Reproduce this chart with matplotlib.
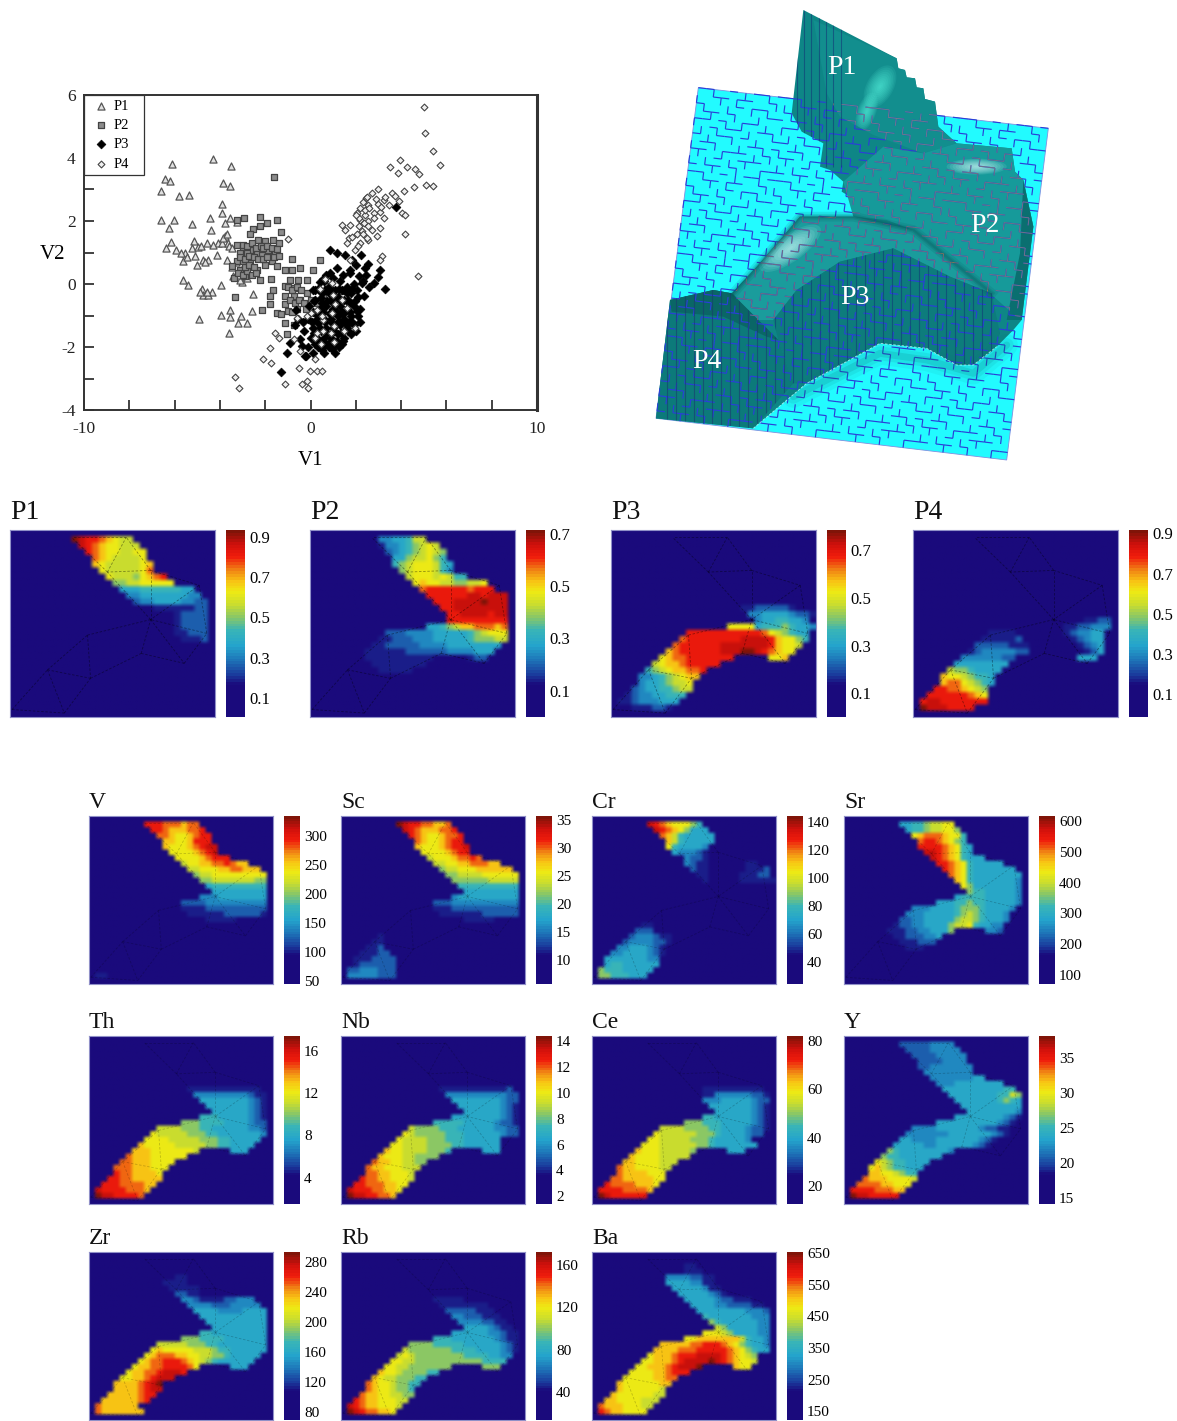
import numpy as np
import matplotlib
matplotlib.use("Agg")
import matplotlib.pyplot as plt
from matplotlib.colors import LinearSegmentedColormap
from matplotlib.collections import LineCollection
from matplotlib.patches import Polygon, Ellipse, Rectangle

W, H = 1177, 1421
plt.rcParams['font.family'] = ['Liberation Serif', 'DejaVu Serif']

# scatter values
p1_x = [-6.13,-4.32,-3.52,-6.43,-6.2,-6.62,-5.79,-5.38,-3.88,-3.55,-6.62,-6.03,-6.23,-5.25,-4.44,-4.41,-3.92,-3.92,-3.55,-3.77,-3.26,-6.18,-6.38,-5.94,-5.54,-5.62,-5.14,-5.25,-4.95,-4.58,-5.03,-4.73,-4.51,-4.14,-4.07,-3.77,-3.92,-3.63,-3.7,-5.62,-5.39,-4.8,-4.76,-4.51,-4.36,-3.95,-3.04,-2.55,-4.91,-3.95,-3.55,-3.55,-3.08,-3.18,-2.81,-2.59,-3.6,-3.11,-3.4,
        -5.7,-5.45,-5.1,-4.85,-4.65,-4.3,-3.85,-3.6,-3.45,-4.55,-4.9,-3.3,-3.45,-3.2,-3.0,-2.8,-3.7]
p1_y = [3.81,3.96,3.74,3.34,3.28,2.96,2.8,2.83,3.2,3.12,2.02,2.02,1.77,1.9,2.11,1.7,2.25,2.54,2.09,1.93,1.98,1.33,1.14,1.09,.98,.74,1.35,1.14,1.19,1.3,.61,.77,.77,.93,1.3,1.51,1.3,1.3,.77,.12,-.02,-.16,-.34,-.34,-.26,-.02,.05,-.31,-1.1,-.99,-.81,-1.06,-1.0,-1.24,-1.24,-.87,-1.57,.14,.24,
        1.0,.85,.9,1.2,.7,1.25,1.45,1.2,1.15,-.25,-.25,.7,.55,.3,.55,.2,1.6]
p2_x = [-1.6,-2.25,-1.49,-2.93,-3.26,-1.93,-2.23,-2.52,-2.67,-1.31,-2.3,-2.0,-1.64,-1.41,-3.26,-2.96,-2.67,-3.11,-2.82,-2.37,-2.15,-1.86,-1.56,-3.26,-2.96,-2.67,-3.48,-3.11,-2.37,-2.0,-1.71,-1.49,-1.12,-.8,-.83,-.46,-3.38,-2.89,-2.23,-1.74,.13,.4,-.16,-.53,-.9,-1.12,-.75,-1.64,-1.81,-1.78,-1.12,-1.12,-.75,-.46,-3.33,-2.15,-1.46,-1.12,-.75,-1.05,-.16,.57,.57,1.39,1.61,.21,.72,
        -3.0,-2.8,-2.6,-2.4,-2.2,-3.1,-2.9,-2.7,-2.5,-2.3,-2.1,-1.9,-3.2,-3.0,-2.8,-2.6,-2.4,-2.9,-2.7,-2.5,-2.1,-1.9,-1.7,-1.5,-1.0,-.8,-.6,-.4,-.9,-.7,-.5,-.3,-1.0,-.8,-.6,-1.3,-.2,.0,.3,-1.6,-1.4]
p2_y = [3.41,2.14,2.04,2.09,2.02,1.95,1.83,1.75,1.59,1.66,1.4,1.35,1.4,1.3,1.25,1.14,1.09,.98,.98,.98,.93,1.09,.98,.72,.72,.67,.56,.45,.45,.61,.72,.56,.45,.79,.45,.51,.19,.24,.14,.16,.43,.77,.14,.14,.14,-.07,-.13,-.18,-.37,-.62,-.39,-.65,-.39,-.5,-.41,-.84,-.92,-1.24,-1.29,-1.58,-.29,-.34,-.71,-.23,-1.34,-1.66,-.07,
        1.25,1.2,1.3,1.15,1.2,.85,.8,.9,.85,.8,.8,.85,.35,.3,.4,.3,.35,.55,.6,.55,1.15,1.2,1.15,1.1,-.1,-.2,-.1,-.2,-.5,-.6,-.5,-.6,-.85,-.9,-.8,-.95,-.8,-.5,-.6,.85,.9]
p3_x = [3.79,.84,1.16,1.53,2.23,1.83,2.42,1.75,2.12,3.08,2.96,2.79,3.3,2.27,2.35,-1.31,-1.05,-.9,-.38,-.24,-.63,-.46,.2,.5,.8,1.0,1.3,1.6,1.9,.6,.9,1.2,1.5,1.8,2.1,2.2,1.9,1.6,1.3,1.0,.7,.4,.1,-.1,.3,.6,.9,1.2,1.5,1.8,2.1,2.2,1.9,1.6,1.3,1.0,.7,.4,.1,-.3,0,.3,.6,.9,1.2,1.5,1.8,1.4,1.1,.8,.5,.2,-.1,-.2,.1,.6,1.1,1.6,1.4,1.1,.8,1.7,2.0,1.2,.9,1.4,1.7,.5,.2,.7,1.0,
        .35,.65,.95,1.25,1.55,1.85,2.05,.15,.45,.75,1.05,1.35,1.65,1.95,.25,.55,.85,1.15,1.45,1.75,2.05,.05,.35,.65,.95,1.25,1.55,1.85,.15,.45,.75,1.05,1.35,1.65,.25,.55,.85,1.15,1.45,.35,.65,.95,1.25,.55,.85,1.15,1.45,1.75,2.0,2.3,2.45,2.6,2.55,.1,.4,-.05,-.35,-.55,-.7]
p3_y = [2.43,1.09,1.0,.93,.93,.77,.51,.35,.24,.43,.22,.03,-.15,.03,-.39,-2.79,-2.19,-1.87,-1.97,-2.29,-.81,-1.76,-.5,-.3,-.1,.2,.1,-.1,0,.1,-.5,-.4,-.5,-.3,-.4,-.8,-.7,-.8,-.7,-.8,-.7,-.8,-.9,-1.1,-1.1,-1.1,-1.1,-1.0,-1.1,-1.0,-1.0,-1.2,-1.3,-1.4,-1.3,-1.4,-1.4,-1.4,-1.4,-1.5,-1.7,-1.7,-1.7,-1.7,-1.6,-1.7,-1.6,-1.9,-1.9,-2.0,-2.1,-1.9,-2.0,-2.3,-2.2,-2.2,-2.2,-.3,-.2,-.2,-.3,-1.2,-1.5,-1.2,-.9,-.9,-.6,-.6,-.2,.3,-.6,
        -.15,-.2,-.25,-.15,-.2,-.15,-.2,-.55,-.45,-.55,-.5,-.55,-.5,-.55,-.95,-.9,-.95,-.9,-.95,-.9,-.85,-1.2,-1.25,-1.2,-1.25,-1.2,-1.25,-1.2,-1.55,-1.5,-1.55,-1.5,-1.55,-1.5,-1.85,-1.8,-1.85,-1.8,-1.8,-2.0,-1.95,-2.05,-2.0,.15,.35,.5,.3,.45,.6,.1,.3,-.1,.65,-.2,.05,-.7,-1.2,-1.1,-1.3]
p4_x = [5.0,5.06,5.41,5.73,3.96,3.52,3.85,4.26,4.63,4.78,5.1,5.39,4.55,4.11,3.0,3.6,3.74,2.45,3.23,3.0,2.56,2.2,2.05,2.42,2.79,3.08,4.04,4.19,3.23,2.2,2.56,1.39,1.75,2.12,3.08,1.53,2.27,2.71,4.19,1.68,2.56,2.93,1.61,2.2,1.97,3.15,3.05,4.73,1.75,-1,-1.56,-1.41,-1.81,-2.11,-1.75,-3.33,-3.14,-1.12,-.38,-.16,-.09,-.49,-.01,.28,.5,.21,-.46,-.75,0,.28,.57,.94,1.02,.57,.21,.94,1.39,1.97,-.16,-.6,
        2.3,2.5,2.7,2.9,3.1,2.4,2.6,2.8,2.15,2.35,2.55,2.05,2.3,2.5,1.85,2.1,3.3,3.45,3.9,2.0,
        .4,1.0,1.6,.5,1.1,.3,.9,1.5,.45,1.05,.65]
p4_y = [5.63,4.78,4.23,3.78,3.94,3.73,3.52,3.71,3.64,3.5,3.15,3.12,3.09,2.96,3.01,2.88,2.78,2.72,2.67,2.54,2.51,2.41,2.25,2.2,2.25,2.3,2.25,2.2,2.09,2.04,1.99,1.88,1.88,1.85,1.77,1.7,1.67,1.72,1.58,1.46,1.4,1.51,1.3,1.3,1.09,.88,.77,.24,.77,1.43,-1.57,-1.71,-2.04,-2.38,-2.52,-2.96,-3.29,-3.16,-3.19,-3.08,-3.29,-2.66,-2.77,-2.77,-2.77,-2.38,-2.13,-1.76,-.92,-.81,-1.13,-.92,-1.34,-1.5,-1.71,.03,-.5,-1.39,-1.02,-1.08,
        2.6,2.75,2.9,2.7,2.45,2.35,2.4,2.1,2.1,1.95,1.85,1.6,1.6,1.45,1.5,1.2,2.75,2.5,2.65,2.2,
        -.15,-.35,-.75,-1.0,-.65,-1.55,-1.55,-1.5,-1.9,-1.85,.15]

# maps: every row is "first_column levels", levels 0-f are fractions of the colour bar
P1_ROWS = ["9 feddcba99","10 edcbaa999","11 dcbaa99aa","12 cba9999a","12 ba99999ab","13 a99999ac","14 a9998abcd","15 8899aaaaa","16 666777777660","17 55666666655","18 45566665544","19 0233333344","24 34444","24 34444","24 34444","24 33444","25 3334"]
P2_ROWS = ["10 5566799","10 3556789a9","11 456789a98","12 66899a87","12 789aaa976","13 89aaa975","14 9aaa9a977","15 abaa998899a","16 cddddddcddd","17 ddddddeedeee","18 dddeeeefeee","19 ddeeeeeeee","20 ddeeeedee","20 ddddddddd","17 66789bbcccbc","11 444555566666789aaa","10 3344455566666788899","9 3344444555566666666","8 3333334444445555666","8 333333333300000344","9 33333333","10 33333"]
P3_ROWS = ["","","","","","","","","","","","19 33444443","20 5566665443","21 56677665","17 aaaa677787665","11 dddddddddddca98766","10 cddddddddeeeedbaa87","9 cddddddeeeeeeedbaa9","8 bcddddddeeeffedcbaa","7 abccddddddd00000aab","6 9abbcddddd","5 789abbccd","4 556789abb","4 5667899a","3 456677899","2 345566777","1 334555666","1 00333443"]
P4_ROWS = ["","","","","","","","","","","","","","25 3344","22 3344555","11 33330000000345566","10 333334000000034566","9 4444433300000003456","8 34555554400000000346","7 55555544000000000666","6 66666666","5 98876666","4 baa98776","4 bcca9876","3 ddccba98","2 ddddddcba","1 deeddddddd","1 feeedddd"]
V_ROWS = ["9 dddcccbcc","10 ddcbbbccd","11 ccbaabcdd","12 bbaabddd","12 baaabcdee","13 aaaabcde","14 aaaabcddd","15 9aabbccdcbb","16 99aaabbccbbb","17 899aaaaaaaaa","18 88999999988","19 6777777777","20 666666666","18 55566666666","15 44445555555555","15 33334444444444","16 3333334444443","19 33333","","","","","","","","","","1 33"]
SC_ROWS = ["9 feddccbbc","10 edcbbbccd","11 dcbaabccd","12 cbaabcdd","12 baaabcdde","13 aaaabcdd","14 9aaabccdc","15 99aabbcccbb","16 899aaabbbbbb","17 889999aaaaaa","18 88888899999","19 7777777777","20 666666666","18 56666666666","15 44455555555555","15 33344444444444","16 3333333444444","20 33333","","","6 3","5 33","4 334","3 33344","2 3334444","2 3444444","1 44555444","1 55555444"]
CR_ROWS = ["9 edcbaaa87","10 edcba8666","11 cb9766666","12 b9766666","12 a766665","13 655543","15 5443","15 543300000033","16 4330000003334","17 330000033344","18 3000003333333","","","","","","","","8 33","7 444","6 4555433","5 45555443","4 55666543","3 556666543","2 666666655","2 677666666","1 877766666","1 88777666"]
SR_ROWS = ["9 6677899aa","10 677899aa8","11 abcccbaa7","12 cddcba87","12 ddddcba76","13 eedcba76","14 edcba7666","15 ddcba766666","16 dcba76666666","17 cba766666666","18 ba766666665","19 a866666665","20 877666665","18 67777666665","15 66677877666665","11 55566667888766665","10 55566666789876665","9 445566666899876665","8 344556666899a76655","7 3334455666800000554","8 33444556","9 333444","10 333"]
TH_ROWS = ["","","","","","","","","16 333333333333","17 555555555433","18 66666666543","19 6666666543","20 666666543","18 77766666543","15 88877776666544","11 999988877666666554","10 a999998887766666665","9 aaaa999998887766666","8 baaaaa9999988776666","7 bbbaaaaaaa900000666","6 cbbbaaaaaa","5 ccbbbaaaa","4 cccbbbaaa","4 dccbbbba","3 ddccbbbbb","2 dddccccbb","1 eddddcccb","1 feeddddc"]
NB_ROWS = ["","","","","","","","","16 333333333334","17 555555555544","18 66666666544","19 6666666543","20 666666543","18 66666666543","15 77777666665443","11 988887776666665544","10 a988888777666666544","9 a9999888777666666","8 aa9999888877666666","7 baa9999888700000666","6 baaa998888","5 cbbaa9988","4 cbbaaa999","4 ccbbaaa9","3 dccbbaaa9","2 ddcccbbaa","1 edddccbba","1 feeddccb"]
CE_ROWS = ["","","","","","","","","18 3333333333","18 33555555443","18 55566666544","19 6666666543","20 666666543","18 77666666543","15 88877766666543","11 999988887766665443","10 a99999988876666544","9 aa999998887666665","8 aaa9999998876666666","7 baaa99999800000666","6 baaaa99999","5 bbaaaa999","4 cbbaaaa99","4 cbbbbaaa","3 ccbbbbbaa","2 dccccbbba","1 ddddccccb","1 fedddddd"]
Y_ROWS = ["9 444445555","10 444455555","11 444455555","12 44445555","12 445555555","13 55555555","14 555555566","15 55566666666","16 666666666677","17 666666667798","18 66666667876","19 6666666666","20 666666665","18 66666666543","15 66666666665430","11 55556666666544 33","10 55555556666666543","9 66555566666665430","8 66666556666665430","7 87666666665","6 8776666666","5 a98776666","4 ab9877666","4 bbaa9877","3 cbbbaaaa9","2 ccccbbaaa","1 ddddcccbb","1 feeddddd"]
ZR_ROWS = ["","","","14 33","12 3333","13 33333","14 4433","15 554333344555","16 555544455555","17 666655556666","18 66666666666","19 6666666666","20 666666666","18 77666666666","15 88877776666666","11 999998887766666666","10 abaaaaa999877666666","9 abcccbbaa9988766666","8 abccdddcba987666666","7 abbccddddca00000666","6 abbccdeeed","5 aabbcdeee","4 bbbbcdef","4 bbbbcdee","3 bbbbbcdd","2 bbbbbbcd","1 cbbbbbb","1 cbbbbbbb"]
RB_ROWS = ["","","","","","","","15 33333","16 33333333","17 44444333","18 55444333","19 55554433","20 66665433","18 66666655433","15 77766666665433","11 888877777666666543","10 9888888877776666543","9 9a98888888877776655","8 aa99888888888887777","7 aa99888888800000888","6 baa9888877","5 ba9988877","4 cbaa98877","4 cbaa9887","3 cbbaa9988","2 dcbbaaa99","1 edcbbaaa9","1 fedccbba"]
BA_ROWS = ["","15 33","15 333","12 55554433","12 66665533","13 66666533","14 66666543","15 66666544333","16 666655444433","17 666666665554","18 76666666555","19 8766666655","20 986666655","18 aaa98666655","15 aabbbbbbb97665","11 bbbbbccdddcba87665","10 bbbbcccdddddcba8766","9 abbbcdddeeeedcba98","8 aabbbcdeeeefedcbaa9","7 aabbbcdeeef00000baa","6 aaaabbcddd","5 aaaaabbcc","4 baaaaaabb","4 baaaaaa9","3 baaaaaa99","2 bbaaaa999","1 cbbbaaa99","1 dcbbaaaa"]

# colour bar ranges and ticks of the maps
top_names = ["P1", "P2", "P3", "P4"]
top_rows = [P1_ROWS, P2_ROWS, P3_ROWS, P4_ROWS]
top_ranges = [(0.005, 0.935), (0.0, 0.714), (0.0, 0.785), (-0.014, 0.917)]
top_ticks = [[.1,.3,.5,.7,.9], [.1,.3,.5,.7], [.1,.3,.5,.7], [.1,.3,.5,.7,.9]]

el_names = ["V","Sc","Cr","Sr","Th","Nb","Ce","Y","Zr","Rb","Ba"]
el_rows = [V_ROWS,SC_ROWS,CR_ROWS,SR_ROWS,TH_ROWS,NB_ROWS,CE_ROWS,Y_ROWS,ZR_ROWS,RB_ROWS,BA_ROWS]
el_ranges = [(45,334),(5.7,35.7),(24,144),(71,616),(1.5,17.4),(1.4,14.4),(12.5,82),(14.1,38.1),(69,293),(13.5,172),(122,653)]
el_ticks = [[50,100,150,200,250,300],[10,15,20,25,30,35],[40,60,80,100,120,140],[100,200,300,400,500,600],
            [4,8,12,16],[2,4,6,8,10,12,14],[20,40,60,80],[15,20,25,30,35],[80,120,160,200,240,280],[40,80,120,160],[150,250,350,450,550,650]]

# triangulation drawn over the maps, in fractions of the panel
mesh_x = [.01,.183,.378,.686,.393,.64,.265,.85,.96,.686,.475,.567,.30,.923]
mesh_y = [.96,.748,.562,.479,.793,.66,.979,.713,.553,.216,.225,.039,.039,.296]
mesh_edges = [(0,1),(1,2),(2,3),(1,4),(4,5),(5,3),(2,4),(1,6),(6,4),(0,6),(5,7),(7,8),(8,3),(3,7),(3,9),(9,10),(10,11),(3,10),(9,13),(13,3),(13,8),(9,11),(10,12),(11,12)]

jet = LinearSegmentedColormap.from_list("mapjet", [
    (0.0, "#1a0a7c"), (0.17, "#1a0a7c"), (0.22, "#1a3a9c"), (0.30, "#1e74b8"), (0.38, "#24a4cc"),
    (0.46, "#38b4b8"), (0.54, "#8cc864"), (0.60, "#c8dc30"), (0.67, "#eeea14"), (0.73, "#f8c414"),
    (0.79, "#f08414"), (0.86, "#f01c0c"), (0.93, "#d0100c"), (1.0, "#801408")], N=64)


def px_axes(x, y, w, h):
    return fig.add_axes([x / W, 1 - (y + h) / H, w / W, h / H])


def rows_to_grid(rows):
    grid = np.zeros((30, 30))
    for r, row in enumerate(rows):
        if not row:
            continue
        start, levels = row.split(None, 1)
        levels = levels.replace(" ", "")
        for i, ch in enumerate(levels):
            col = int(start) + i
            if col < 30:
                grid[r + 1, col] = int(ch, 16)
    return grid


def draw_map(rows, name, vrange, ticks, x, y, w, h, barw, title_size, tick_size, mesh_alpha, title_gap):
    ax = px_axes(x, y, w, h)
    vmin, vmax = vrange
    values = vmin + rows_to_grid(rows) / 15 * (vmax - vmin)
    im = ax.imshow(values, cmap=jet, vmin=vmin, vmax=vmax, aspect='auto',
                   interpolation='hermite', interpolation_stage='rgba', extent=(0, 1, 1, 0))
    for a, b in mesh_edges:
        ax.plot([mesh_x[a], mesh_x[b]], [mesh_y[a], mesh_y[b]], color='black',
                lw=0.6, ls=(0, (3, 2)), alpha=mesh_alpha)
    ax.set_xlim(0, 1)
    ax.set_ylim(1, 0)
    ax.set_xticks([])
    ax.set_yticks([])
    for s in ax.spines.values():
        s.set_color('#9090c8')
        s.set_linewidth(0.8)
    cax = px_axes(x + w + 11, y, barw, h)
    cb = fig.colorbar(im, cax=cax)
    cb.set_ticks(ticks)
    cb.set_ticklabels([str(t) for t in ticks])
    cb.ax.tick_params(length=0, labelsize=tick_size, pad=3)
    cb.outline.set_visible(False)
    fig.text(x / W, 1 - (y - title_gap) / H, name, fontsize=title_size, va='bottom', ha='left', color='#111111')


fig = plt.figure(figsize=(W / 100, H / 100), dpi=100)

# scatter plot
ax = px_axes(84, 95, 453, 315)
ax.scatter(p1_x, p1_y, marker='^', s=26, facecolors='#e0e0e0', edgecolors='#555555', linewidths=0.9, label='P1')
ax.scatter(p2_x, p2_y, marker='s', s=24, facecolors='#8c8c8c', edgecolors='#444444', linewidths=0.9, label='P2')
ax.scatter(p3_x, p3_y, marker='D', s=20, facecolors='black', edgecolors='black', linewidths=0.5, label='P3')
ax.scatter(p4_x, p4_y, marker='D', s=12, facecolors='#f0f0f0', edgecolors='#444444', linewidths=0.8, label='P4')
ax.set_xlim(-10, 10)
ax.set_ylim(-4, 6)
ax.set_xticks(np.arange(-10, 11, 2))
ax.set_xticklabels(['-10', '', '', '', '', '0', '', '', '', '', '10'])
ax.set_yticks(np.arange(-4, 7, 1))
ax.set_yticklabels(['-4', '', '-2', '', '0', '', '2', '', '4', '', '6'])
ax.tick_params(direction='in', length=7, width=1.2, labelsize=12.5, colors='#222222')
ax.tick_params(axis='x', pad=8)
ax.tick_params(axis='y', pad=6)
ax.set_xlabel('V1', fontsize=15, labelpad=10)
ax.set_ylabel('V2', fontsize=15, rotation=0, labelpad=6, va='center')
ax.yaxis.set_label_coords(-0.07, 0.495)
for s in ax.spines.values():
    s.set_linewidth(1.4)
    s.set_color('#333333')
ax.spines['right'].set_linewidth(2.2)
ax.add_patch(Rectangle((0, 1 - 80 / 315), 60 / 453, 80 / 315, transform=ax.transAxes, facecolor='white',
                       edgecolor='#333333', lw=0.9, zorder=4))
leg = ax.legend(loc='upper left', bbox_to_anchor=(0, 1), borderaxespad=0, frameon=False, fontsize=10.5,
                labelspacing=0.42, handletextpad=0.0, borderpad=0.3, handlelength=1.7)
leg.set_zorder(5)

# 3d surface, drawn on a pixel canvas (outlines read in zoom pixels, 3x)
sf = fig.add_axes([0, 0, 1, 1], zorder=-1)
sf.set_xlim(0, W)
sf.set_ylim(H, 0)
sf.axis('off')


def z(pts):
    return [(640 + a / 3, b / 3) for a, b in pts]


teeth = [(770,175),(775,205),(795,210),(800,232),(825,235),(830,262),(850,265),(855,297),(885,305),(895,380)]
base_quad = z([(175, 263), (1225, 385), (1100, 1380), (48, 1255)])
silhouette = z([(490,30)] + teeth + [(950,430),(1115,445),(1125,515),(1150,540),(1180,680),(1165,800),(1145,960),(1120,990),(1070,1040),(1000,1095),(950,1095),(860,1045),(720,1030),(500,1150),(340,1285),(48,1255),(90,900),(220,870),(275,880),(350,800),(480,650),(640,650),(665,620),(630,590),(605,575),(610,545),(570,510),(540,500),(550,430),(485,395),(455,340)])
p1_top = z([(520,60)] + teeth + [(950,430),(850,460),(700,405),(600,350),(560,280)])
p2_top = z([(730,440),(850,460),(950,430),(1115,445),(1125,515),(1150,540),(1180,680),(1140,960),(1050,880),(820,690),(740,660),(640,650),(610,545)])
p3_top = z([(280,880),(360,790),(480,650),(640,650),(820,690),(1055,880),(930,830),(760,745),(600,785),(470,870),(400,960),(340,960)])
p3_wall = z([(400,960),(470,870),(600,785),(760,745),(930,830),(1055,880),(1080,1000),(1060,1050),(1000,1095),(950,1095),(860,1045),(720,1030),(500,1150),(460,1150),(415,1020)])
p4_wall = z([(90,900),(220,870),(275,880),(415,1020),(460,1150),(340,1285),(48,1255)])
p4_rim = z([(90,900),(220,870),(275,880),(415,1020),(380,1010),(250,950),(95,935)])
right_band = z([(1150,540),(1180,680),(1165,800),(1145,960),(1100,960),(1140,760)])
ridge = z([(280,880),(360,790),(480,650),(640,650),(820,690),(1055,880)])
foot = z([(340,1285),(500,1150),(720,1030),(860,1045),(950,1095),(1000,1095),(1070,1040)])

MAZE_H = ["11001001101", "00110110010", "10000101100", "01101000011", "11010011000", "00101100110", "10011010001", "01100001101", "11001110010", "00010011100", "10110100011"]
MAZE_V = ["00100010010", "10010100001", "01001001010", "00100100100", "10001010010", "01010001001", "00100100100", "10010010010", "01001000101", "10100101000", "00010010010"]


def quad_pt(u, v):
    a, b, c, d = [np.array(p) for p in base_quad]
    return tuple((1 - v) * ((1 - u) * a + u * b) + v * ((1 - u) * d + u * c))


def maze_segments(n=44):
    segs = []
    for i in range(n):
        for j in range(n):
            if MAZE_H[j % 11][i % 11] == '1':
                segs.append([quad_pt(i / n, j / n), quad_pt((i + 1) / n, j / n)])
            if MAZE_V[j % 11][i % 11] == '1':
                segs.append([quad_pt(i / n, j / n), quad_pt(i / n, (j + 1) / n)])
    return segs


def glow(x, y, rx, ry, angle, color, strength, clip):
    cx, cy = z([(x, y)])[0]
    for k in range(10, 0, -1):
        e = Ellipse((cx, cy), 2 * rx * k / 10 / 3, 2 * ry * k / 10 / 3, angle=angle, facecolor=color,
                    edgecolor='none', alpha=strength)
        sf.add_patch(e)
        e.set_clip_path(clip)


base = Polygon(base_quad, closed=True, facecolor='#22fbff', edgecolor='#8090e0', lw=0.6)
sf.add_patch(base)
maze = LineCollection(maze_segments(), colors='#2a3fd8', linewidths=0.85)
sf.add_collection(maze)
# soft shadow round the foot of the surface
for lw, al in [(16, .07), (10, .1), (5, .16)]:
    shade = [(460,1190),(720,1060),(860,1080),(1000,1120),(1100,1035)]
    sx, sy = zip(*z(shade))
    ln, = sf.plot(sx, sy, color='#0a6e70', lw=lw, alpha=al, solid_capstyle='round')
    ln.set_clip_path(base)

sil = Polygon(silhouette, closed=True, facecolor='#0e8686', edgecolor='none')
sf.add_patch(sil)
faces = [(p1_top, '#128e8e'), (p2_top, '#169a9a'), (p3_top, '#1a9c9c'), (p3_wall, '#0d7c7c'),
         (p4_wall, '#0c7a7a'), (p4_rim, '#0a6666'), (right_band, '#0a6f70')]
patches = {}
for pts, col in faces:
    pg = Polygon(pts, closed=True, facecolor=col, edgecolor='none')
    sf.add_patch(pg)
    patches[col] = pg

glow(720, 260, 40, 70, 30, '#60ffe8', .09, patches['#128e8e'])
glow(680, 335, 28, 60, 20, '#60ffe8', .09, patches['#128e8e'])
glow(1010, 500, 90, 24, 0, '#e0ffff', .1, patches['#169a9a'])
glow(450, 745, 110, 40, -35, '#d8ffff', .1, patches['#1a9c9c'])
# dark edge along the ridge and the shoulder of P2
for lw, al in [(7, .12), (4, .16), (2, .2)]:
    rx, ry = zip(*ridge)
    sf.plot(rx, ry, color='#064c50', lw=lw, alpha=al)

# wall lines and mesh on the faces
wall_x = np.arange(80, 1100, 27)
wall_lines = [[z([(a, 300)])[0], z([(a, 1300)])[0]] for a in wall_x]
for pg, col in [(patches['#0d7c7c'], '#123a78'), (patches['#0c7a7a'], '#1a3a70')]:
    lc = LineCollection(wall_lines, colors=col, linewidths=0.8, alpha=.6)
    sf.add_collection(lc)
    lc.set_clip_path(pg)
lc = LineCollection([[z([(a, 30)])[0], z([(a, 500)])[0]] for a in np.arange(470, 620, 22)],
                    colors='#123a78', linewidths=0.8, alpha=.6)
sf.add_collection(lc)
lc.set_clip_path(sil)
for pg, col in [(patches['#128e8e'], '#b8b838'), (patches['#169a9a'], '#b8a830'), (patches['#1a9c9c'], '#b89a28')]:
    lc = LineCollection(maze_segments(), colors=col, linewidths=0.6, alpha=.55)
    sf.add_collection(lc)
    lc.set_clip_path(pg)
fx, fy = zip(*foot)
sf.plot(fx, fy, color='#c8ffff', lw=0.6, ls=(0, (3, 2)), alpha=.8)

for name, tx, ty in [("P1", 842, 68), ("P2", 985, 226), ("P3", 855, 297), ("P4", 707, 361)]:
    sf.text(tx, ty, name, color='white', fontsize=20, ha='center', va='center')

# fraction maps
top_x = [10, 310, 611, 913]
for i in range(4):
    draw_map(top_rows[i], top_names[i], top_ranges[i], top_ticks[i], top_x[i], 530, 205, 187, 19, 20, 12, .4, 5)

# element maps
el_x = [89, 341, 592, 844]
el_y = [816, 1036, 1252]
for i in range(len(el_names)):
    draw_map(el_rows[i], el_names[i], el_ranges[i], el_ticks[i], el_x[i % 4], el_y[i // 4], 184, 168, 16, 17, 11, .2, 3)

fig.savefig("out.png", dpi=100)
